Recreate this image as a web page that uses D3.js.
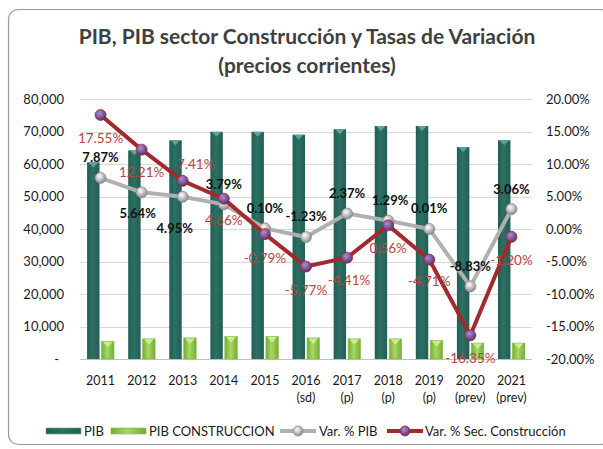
<!DOCTYPE html>
<html>
<head>
<meta charset="utf-8">
<script src="https://cdn.jsdelivr.net/npm/d3@7"></script>
<style>
  body { margin: 0; background: #ffffff; }
  svg { display: block; font-family: Lato, 'Open Sans', sans-serif; }
</style>
</head>
<body>
<svg id="chart" width="603" height="449"></svg>
<script>
// data
var years = ['2011', '2012', '2013', '2014', '2015', '2016', '2017', '2018', '2019', '2020', '2021'];
var yearNotes = ['', '', '', '', '', '(sd)', '(p)', '(p)', '(p)', '(prev)', '(prev)'];
var pib = [60500, 64200, 67300, 69900, 69900, 69000, 70700, 71700, 71700, 65200, 67300];
var pibConstruccion = [5400, 6200, 6500, 6900, 6900, 6500, 6200, 6200, 5700, 4900, 4900];
var varPib = [7.87, 5.64, 4.95, 3.79, 0.10, -1.23, 2.37, 1.29, 0.01, -8.83, 3.06];
var varConstruccion = [17.55, 12.21, 7.41, 4.66, -0.79, -5.77, -4.41, 0.56, -4.71, -16.35, -1.20];
var leftTicks = [0, 10000, 20000, 30000, 40000, 50000, 60000, 70000, 80000];
var rightTicks = [-20, -15, -10, -5, 0, 5, 10, 15, 20];

// where each data label sits relative to its point (dx, dy of label centre)
var pibLabelOffset = [[0, -20], [-4, 21], [-8, 32], [0, -20], [0, -20], [0, -21], [0, -20], [2, -20], [0, -20], [0, -20], [0, -20]];
var conLabelOffset = [[0, 23], [0, 23], [13, -17], [0, 22], [0, 24], [0, 24], [2, 23], [0, 23], [0, 22], [0, 23], [0, 23]];

// plain hyphen for negatives, like the original
var loc = d3.formatLocale({decimal: '.', thousands: ',', grouping: [3], currency: ['', ''], minus: '-'});
var pctFmt = d => loc.format('.2f')(d) + '%';

var svg = d3.select('#chart');
var defs = svg.append('defs');

// chart frame
svg.append('rect')
    .attr('x', 8.5).attr('y', 9.5)
    .attr('width', 602).attr('height', 435)
    .attr('rx', 10)
    .attr('fill', '#ffffff')
    .attr('stroke', '#9a9a9a')
    .attr('stroke-width', 1.2);

// title
var title = svg.append('text')
    .attr('text-anchor', 'middle')
    .attr('fill', '#404040')
    .attr('font-weight', 'bold')
    .attr('font-size', 21);
title.append('tspan').attr('x', 307).attr('y', 44).text('PIB, PIB sector Construcción y Tasas de Variación');
title.append('tspan').attr('x', 307).attr('y', 73).text('(precios corrientes)');

// scales
var plotLeft = 80, plotRight = 532, plotTop = 99, plotBottom = 359;

var x = d3.scaleBand().domain(years).range([plotLeft, plotRight]).padding(0);
var xSub = d3.scaleBand().domain(['pib', 'con']).range([0, x.bandwidth()])
    .paddingInner(0.14).paddingOuter(0.49);
var yL = d3.scaleLinear().domain([0, 80000]).range([plotBottom, plotTop]);
var yR = d3.scaleLinear().domain([-20, 20]).range([plotBottom, plotTop]);

// gradients
function hGrad(id, edge, mid){
    var g = defs.append('linearGradient').attr('id', id)
        .attr('x1', '0%').attr('x2', '100%').attr('y1', '0%').attr('y2', '0%');
    g.append('stop').attr('offset', '0%').attr('stop-color', edge);
    g.append('stop').attr('offset', '45%').attr('stop-color', mid);
    g.append('stop').attr('offset', '100%').attr('stop-color', edge);
}
hGrad('gPib', '#225f54', '#2d7064');
hGrad('gCon', '#76ad33', '#a6d865');

function rGrad(id, c0, c1){
    var g = defs.append('radialGradient').attr('id', id)
        .attr('cx', '40%').attr('cy', '35%').attr('r', '65%');
    g.append('stop').attr('offset', '0%').attr('stop-color', c0);
    g.append('stop').attr('offset', '100%').attr('stop-color', c1);
}
rGrad('mGrey', '#ffffff', '#8a8a8a');
rGrad('mRed', '#a98fd6', '#5e2e6e');

// gridlines
svg.append('g').selectAll('line')
    .data(leftTicks)
    .join('line')
    .attr('x1', plotLeft).attr('x2', plotRight)
    .attr('y1', d => Math.round(yL(d)) + 0.5)
    .attr('y2', d => Math.round(yL(d)) + 0.5)
    .attr('stroke', d => d == 0 ? '#bfbfbf' : '#d9d9d9')
    .attr('stroke-width', 1);

// axes
var axisLeft = svg.append('g')
    .attr('transform', 'translate(' + plotLeft + ',0)')
    .call(d3.axisLeft(yL).tickValues(leftTicks).tickSize(0).tickPadding(16)
        .tickFormat(d => d == 0 ? '-' : loc.format(',')(d)));
axisLeft.select('.domain').remove();
axisLeft.selectAll('text')
    .attr('font-family', 'Lato, sans-serif')
    .attr('font-size', 13)
    .attr('fill', '#1a1a1a')
    .attr('dx', d => d == 0 ? -5 : 0);

var axisRight = svg.append('g')
    .attr('transform', 'translate(' + plotRight + ',0)')
    .call(d3.axisRight(yR).tickValues(rightTicks).tickSize(0).tickPadding(14)
        .tickFormat(pctFmt));
axisRight.select('.domain').remove();
axisRight.selectAll('text')
    .attr('font-family', 'Lato, sans-serif')
    .attr('font-size', 13)
    .attr('fill', '#1a1a1a');

var axisBottom = svg.append('g')
    .attr('transform', 'translate(0,' + plotBottom + ')')
    .call(d3.axisBottom(x).tickSize(0).tickPadding(17));
axisBottom.select('.domain').remove();
axisBottom.selectAll('text')
    .attr('font-family', 'Lato, sans-serif')
    .attr('font-size', 12.5)
    .attr('fill', '#1a1a1a')
    .each(function(d, i){
        var t = d3.select(this);
        var note = yearNotes[i];
        if (note != ''){
            t.append('tspan').attr('x', 0).attr('dy', '1.4em').text(note);
        }
    });

// bars
var barG = svg.append('g');
barG.selectAll('rect.pib')
    .data(pib)
    .join('rect')
    .attr('class', 'pib')
    .attr('x', (d, i) => x(years[i]) + xSub('pib'))
    .attr('y', d => yL(d))
    .attr('width', xSub.bandwidth())
    .attr('height', d => yL(0) - yL(d))
    .attr('fill', 'url(#gPib)');
barG.selectAll('path.pibTop')
    .data(pib)
    .join('path')
    .attr('class', 'pibTop')
    .attr('d', (d, i) => {
        var x0 = x(years[i]) + xSub('pib'), w = xSub.bandwidth(), y0 = yL(d);
        return 'M' + (x0 + 1.5) + ',' + y0 + 'L' + (x0 + w - 1.5) + ',' + y0 + 'L' + (x0 + w / 2) + ',' + (y0 + 5) + 'Z';
    })
    .attr('fill', '#5aa595');

barG.selectAll('rect.con')
    .data(pibConstruccion)
    .join('rect')
    .attr('class', 'con')
    .attr('x', (d, i) => x(years[i]) + xSub('con'))
    .attr('y', d => yL(d))
    .attr('width', xSub.bandwidth())
    .attr('height', d => yL(0) - yL(d))
    .attr('fill', 'url(#gCon)')
    .attr('stroke', '#86b84a')
    .attr('stroke-width', 0.6);
barG.selectAll('path.conTop')
    .data(pibConstruccion)
    .join('path')
    .attr('class', 'conTop')
    .attr('d', (d, i) => {
        var x0 = x(years[i]) + xSub('con'), w = xSub.bandwidth(), y0 = yL(d);
        return 'M' + (x0 + 1.5) + ',' + (y0 + 0.5) + 'L' + (x0 + w - 1.5) + ',' + (y0 + 0.5) + 'L' + (x0 + w / 2) + ',' + (y0 + 6) + 'Z';
    })
    .attr('fill', '#c9ee92');

// lines
var cx = d => x(d) + x.bandwidth() / 2;

function drawLine(values, color, markerFill, markerStroke){
    var line = d3.line()
        .x((d, i) => cx(years[i]))
        .y(d => yR(d));
    svg.append('path')
        .datum(values)
        .attr('d', line)
        .attr('fill', 'none')
        .attr('stroke', color)
        .attr('stroke-width', 4)
        .attr('stroke-linejoin', 'round');
    svg.append('g').selectAll('circle')
        .data(values)
        .join('circle')
        .attr('cx', (d, i) => cx(years[i]))
        .attr('cy', d => yR(d))
        .attr('r', 5.5)
        .attr('fill', markerFill)
        .attr('stroke', markerStroke)
        .attr('stroke-width', 0.8);
}
drawLine(varPib, '#b0b0b0', 'url(#mGrey)', '#8c8c8c');
drawLine(varConstruccion, '#a2292d', 'url(#mRed)', '#a2292d');

// data labels
svg.append('g').selectAll('text')
    .data(varPib)
    .join('text')
    .attr('x', (d, i) => cx(years[i]) + pibLabelOffset[i][0])
    .attr('y', (d, i) => yR(d) + pibLabelOffset[i][1])
    .attr('dy', '0.35em')
    .attr('text-anchor', 'middle')
    .attr('font-size', 13)
    .attr('font-weight', 'bold')
    .attr('fill', '#111111')
    .text(pctFmt);

svg.append('g').selectAll('text')
    .data(varConstruccion)
    .join('text')
    .attr('x', (d, i) => cx(years[i]) + conLabelOffset[i][0])
    .attr('y', (d, i) => yR(d) + conLabelOffset[i][1])
    .attr('dy', '0.35em')
    .attr('text-anchor', 'middle')
    .attr('font-size', 13.5)
    .attr('fill', '#b8453f')
    .text(pctFmt);

// legend
var legend = svg.append('g').attr('font-size', 13).attr('fill', '#1a1a1a');
var ly = 431;

legend.append('rect').attr('x', 46).attr('y', ly - 3).attr('width', 35).attr('height', 6)
    .attr('fill', 'url(#gPib)').attr('stroke', '#5aa595').attr('stroke-width', 0.6);
legend.append('text').attr('x', 84).attr('y', ly).attr('dy', '0.35em').text('PIB');

legend.append('rect').attr('x', 111).attr('y', ly - 3).attr('width', 35).attr('height', 6)
    .attr('fill', 'url(#gCon)').attr('stroke', '#86b84a').attr('stroke-width', 0.6);
legend.append('text').attr('x', 149).attr('y', ly).attr('dy', '0.35em').text('PIB CONSTRUCCION');

legend.append('line').attr('x1', 280).attr('x2', 316).attr('y1', ly).attr('y2', ly)
    .attr('stroke', '#b0b0b0').attr('stroke-width', 4);
legend.append('circle').attr('cx', 298).attr('cy', ly).attr('r', 5)
    .attr('fill', 'url(#mGrey)').attr('stroke', '#8c8c8c').attr('stroke-width', 0.8);
legend.append('text').attr('x', 319).attr('y', ly).attr('dy', '0.35em').text('Var. % PIB');

legend.append('line').attr('x1', 387).attr('x2', 423).attr('y1', ly).attr('y2', ly)
    .attr('stroke', '#a2292d').attr('stroke-width', 4);
legend.append('circle').attr('cx', 405).attr('cy', ly).attr('r', 5)
    .attr('fill', 'url(#mRed)').attr('stroke', '#a2292d').attr('stroke-width', 0.8);
legend.append('text').attr('x', 425).attr('y', ly).attr('dy', '0.35em').text('Var. % Sec. Construcción');
</script>
</body>
</html>
